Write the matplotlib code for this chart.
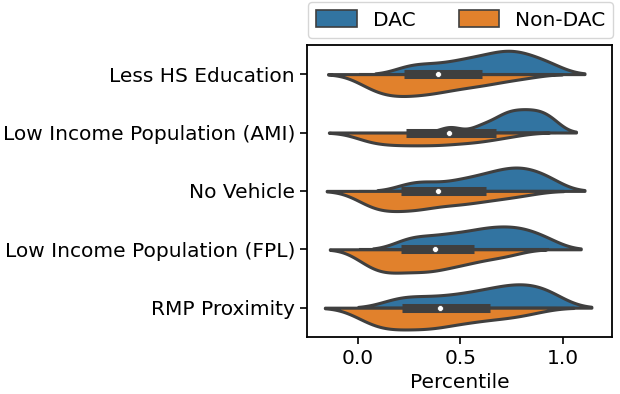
"""
Split violin chart: percentile distributions of DAC vs Non-DAC tracts
"""
import matplotlib
matplotlib.use("Agg")
import matplotlib.pyplot as plt
from matplotlib.patches import Patch
import numpy as np
import pandas as pd
import seaborn as sns


# ========== data ==========
categories = ["Less HS Education", "Low Income Population (AMI)", "No Vehicle",
              "Low Income Population (FPL)", "RMP Proximity"]
groups = ["DAC", "Non-DAC"]

dac_less_hs = [0.24, 0.34, 0.44, 0.52, 0.58, 0.64, 0.69, 0.73, 0.77, 0.82, 0.87, 0.95]
non_less_hs = [0.01, 0.04, 0.06, 0.08, 0.10, 0.12, 0.13, 0.15, 0.16, 0.18, 0.20, 0.21,
               0.23, 0.24, 0.26, 0.28, 0.29, 0.31, 0.33, 0.35, 0.36, 0.38, 0.40, 0.42,
               0.44, 0.47, 0.49, 0.51, 0.54, 0.57, 0.60, 0.63, 0.66, 0.71, 0.76, 0.84]

dac_ami = [0.45, 0.60, 0.67, 0.71, 0.74, 0.77, 0.80, 0.83, 0.86, 0.89, 0.92, 0.96]
non_ami = [0.01, 0.03, 0.05, 0.07, 0.09, 0.11, 0.13, 0.15, 0.17, 0.19, 0.20, 0.22,
           0.24, 0.26, 0.28, 0.30, 0.31, 0.33, 0.35, 0.37, 0.39, 0.41, 0.42, 0.44,
           0.46, 0.48, 0.51, 0.53, 0.55, 0.57, 0.59, 0.62, 0.65, 0.68, 0.72, 0.78]

dac_vehicle = [0.25, 0.35, 0.47, 0.55, 0.62, 0.67, 0.72, 0.76, 0.80, 0.84, 0.89, 0.95]
non_vehicle = [0.01, 0.03, 0.05, 0.07, 0.08, 0.10, 0.11, 0.13, 0.15, 0.16, 0.18, 0.20,
               0.21, 0.23, 0.25, 0.27, 0.28, 0.30, 0.32, 0.33, 0.35, 0.38, 0.40, 0.43,
               0.45, 0.47, 0.50, 0.52, 0.55, 0.57, 0.61, 0.64, 0.68, 0.72, 0.77, 0.84]

dac_fpl = [0.23, 0.31, 0.40, 0.47, 0.54, 0.60, 0.65, 0.70, 0.75, 0.80, 0.85, 0.93]
non_fpl = [0.01, 0.03, 0.05, 0.07, 0.09, 0.10, 0.12, 0.13, 0.15, 0.16, 0.18, 0.20,
           0.21, 0.23, 0.25, 0.27, 0.28, 0.30, 0.32, 0.33, 0.35, 0.37, 0.38, 0.40,
           0.42, 0.44, 0.46, 0.49, 0.51, 0.53, 0.56, 0.59, 0.63, 0.67, 0.71, 0.77]

dac_rmp = [0.18, 0.28, 0.39, 0.49, 0.57, 0.64, 0.70, 0.75, 0.80, 0.85, 0.90, 0.96]
non_rmp = [0.01, 0.03, 0.05, 0.07, 0.10, 0.11, 0.13, 0.15, 0.17, 0.18, 0.20, 0.22,
           0.24, 0.26, 0.28, 0.30, 0.32, 0.34, 0.35, 0.37, 0.39, 0.41, 0.43, 0.46,
           0.48, 0.51, 0.53, 0.56, 0.59, 0.62, 0.66, 0.69, 0.73, 0.77, 0.81, 0.88]

dac_values = [dac_less_hs, dac_ami, dac_vehicle, dac_fpl, dac_rmp]
non_values = [non_less_hs, non_ami, non_vehicle, non_fpl, non_rmp]

# ========== style ==========
BLUE = "#3274a1"
ORANGE = "#e1812c"
GRAY = "#3f3f3f"
FS = 14.5


def main():
    rows = []
    for cat, dv, nv in zip(categories, dac_values, non_values):
        rows += [(cat, "DAC", v) for v in dv]
        rows += [(cat, "Non-DAC", v) for v in nv]
    df = pd.DataFrame(rows, columns=["Metric", "Group", "Percentile"])

    fig = plt.figure(figsize=(6.2, 3.94), dpi=100)
    ax = fig.add_axes([0.495, 0.145, 0.492, 0.741])

    # one call per metric so the two halves are scaled within each metric
    for cat in categories:
        sns.violinplot(data=df[df["Metric"] == cat], x="Percentile", y="Metric",
                       hue="Group", order=categories, hue_order=groups,
                       split=True, inner=None, density_norm="area",
                       common_norm=True, cut=2, bw_method=0.36, linewidth=2.2,
                       linecolor=GRAY, palette=[BLUE, ORANGE], saturation=1,
                       legend=False, ax=ax)

    # miniature box plot of the combined data
    for i, (dv, nv) in enumerate(zip(dac_values, non_values)):
        data = np.array(dv + nv)
        q25, q50, q75 = np.percentile(data, [25, 50, 75])
        lim = 1.5 * (q75 - q25)
        h1 = data[data >= q25 - lim].min()
        h2 = data[data <= q75 + lim].max()
        ax.plot([h1, h2], [i, i], color=GRAY, linewidth=1.5, zorder=3)
        ax.plot([q25, q75], [i, i], color=GRAY, linewidth=6.5,
                solid_capstyle="butt", zorder=3)
        ax.scatter(q50, i, s=18, color="white", edgecolor=GRAY,
                   linewidth=0.5, zorder=4)

    ax.set_xlim(-0.25, 1.24)
    ax.set_ylim(4.5, -0.5)
    ax.set_xticks([0.0, 0.5, 1.0])
    ax.set_xticklabels(["0.0", "0.5", "1.0"])
    ax.set_xlabel("Percentile", fontsize=FS)
    ax.set_ylabel("")
    ax.tick_params(labelsize=FS, length=5, width=1.2)
    for sp in ax.spines.values():
        sp.set_visible(True)
        sp.set_linewidth(1.3)
        sp.set_color("black")

    handles = [Patch(facecolor=BLUE, edgecolor=GRAY, linewidth=1.2, label="DAC"),
               Patch(facecolor=ORANGE, edgecolor=GRAY, linewidth=1.2, label="Non-DAC")]
    ax.legend(handles=handles, loc="lower left", bbox_to_anchor=(0.005, 1.025, 1.0, 0.1),
              mode="expand", ncol=2, fontsize=FS, handlelength=2.0, handleheight=0.9,
              borderaxespad=0.0, frameon=True)

    fig.savefig("out.png", dpi=100)
    plt.close(fig)


if __name__ == "__main__":
    main()
